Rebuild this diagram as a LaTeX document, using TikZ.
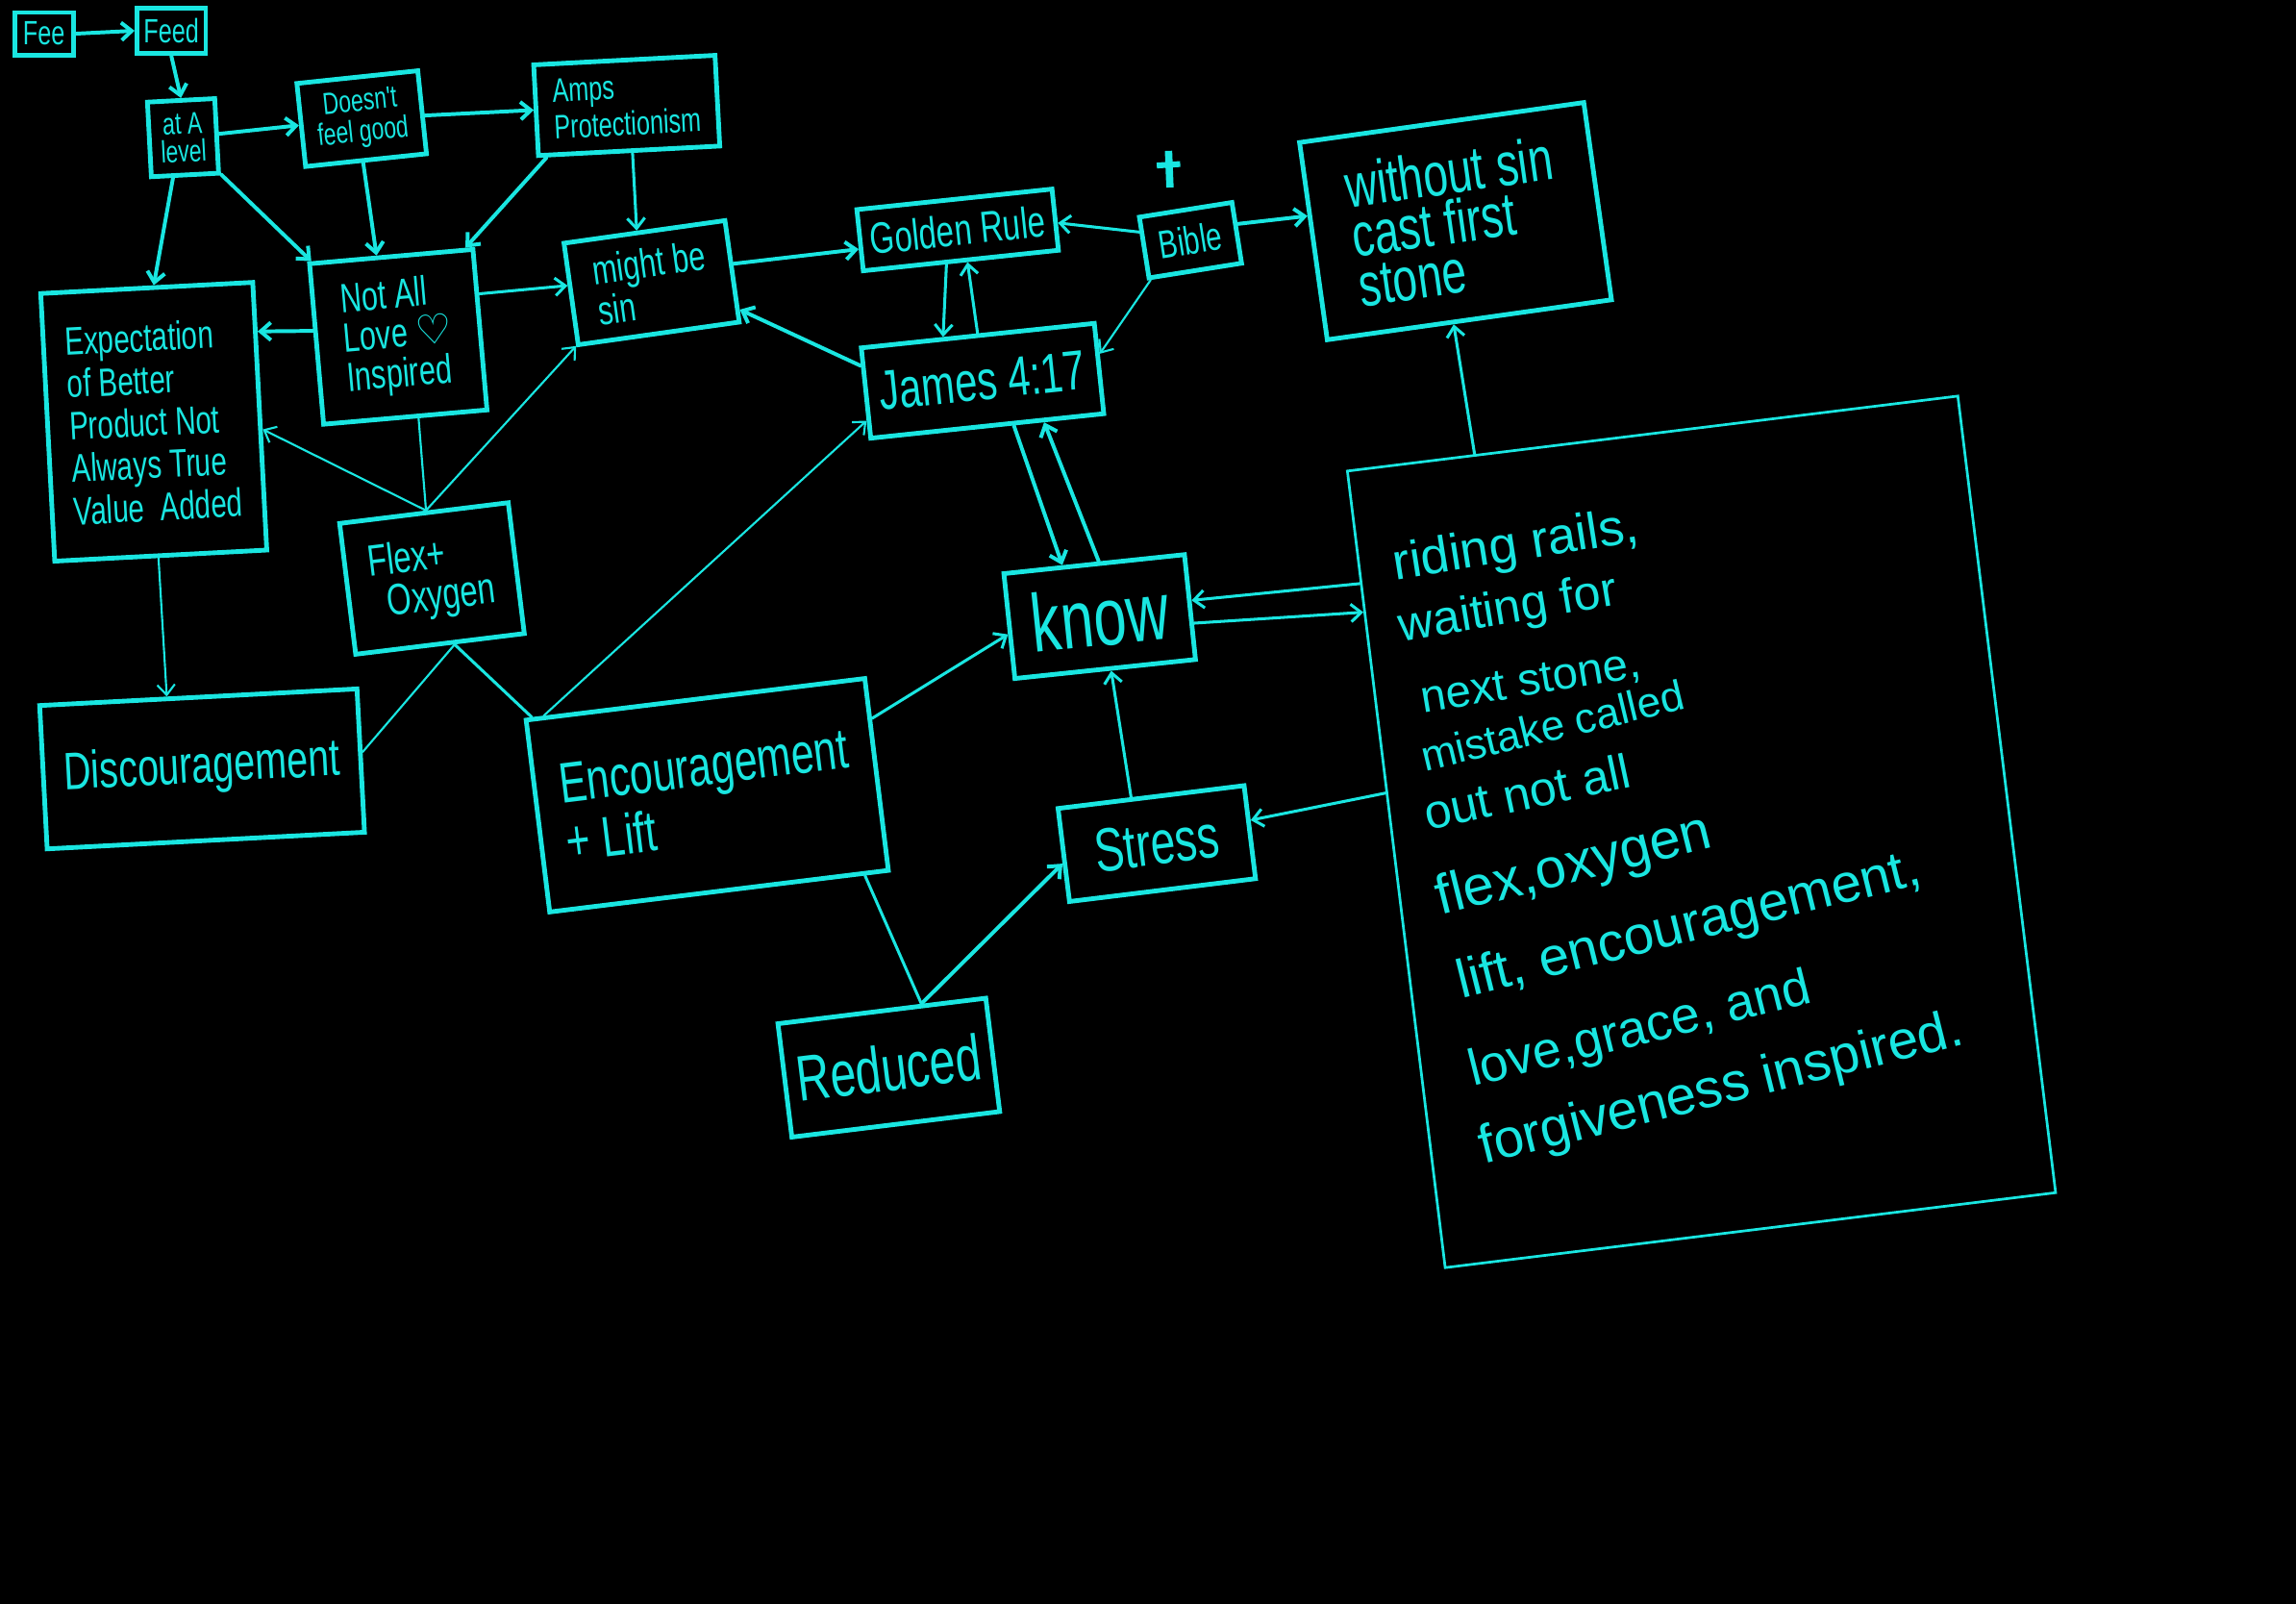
\documentclass[tikz,border=0pt]{standalone}
\usepackage{fontspec}
\setmainfont{Liberation Sans}
\newfontfamily\hand[FakeStretch=0.72]{Liberation Sans}
\newfontfamily\plainhand{Liberation Sans}
\newfontfamily\symf{DejaVu Sans}
\usetikzlibrary{arrows.meta,calc}
\definecolor{cy}{RGB}{25,230,225}
\newcommand\myfs[2]{\fontsize{#1}{#2}\selectfont}
\begin{document}
\begin{tikzpicture}[x=1pt,y=-1pt,
  box/.style={draw=cy,line width=3.2pt,text=cy,inner sep=2pt,align=center},
  thinbox/.style={draw=cy,line width=1.8pt},
  lk/.style={draw=cy,line width=2.6pt,line cap=round},
  lkm/.style={draw=cy,line width=2pt,line cap=round},
  lkt/.style={draw=cy,line width=1.4pt,line cap=round},
  ar/.style={-{Straight Barb[length=7pt,width=12pt]}},
  bt/.style={text=cy,anchor=base west,inner sep=0pt}]
\fill[black] (0,0) rectangle (1568,1095);
\useasboundingbox (0,0) rectangle (1568,1095);

% boxes
\node[box,minimum width=40pt,minimum height=29pt,font={\hand\myfs{23}{24}}] (fee) at (30,23) {Fee};
\node[box,minimum width=47pt,minimum height=31pt,font={\hand\myfs{23}{24}}] (feed) at (117,21) {Feed};
\node[box,rotate=3,minimum width=46pt,minimum height=51pt,font={\hand\myfs{21}{19}}] (atA) at (125,94) {at A\\level};
\node[box,rotate=6,minimum width=83pt,minimum height=57pt,font={\hand\myfs{21}{21}}] (doesnt) at (247,81) {Doesn't\\feel good};
\node[box,rotate=3,align=left,minimum width=124pt,minimum height=62pt,font={\hand\myfs{23}{25}}] (amps) at (428,72) {Amps\\Protectionism};
\node[box,rotate=5,align=left,minimum width=112pt,minimum height=110pt,font={\hand\myfs{28}{27}}] (notall) at (272,230) {Not All\\Love {\symf ♡}\\Inspired};
\node[box,rotate=3,align=left,minimum width=145pt,minimum height=183pt,font={\hand\myfs{27}{29}}] (expect) at (105,288) {Expectation\\of Better\\Product Not\\Always True\\Value \ Added};
\node[box,rotate=8,align=left,minimum width=111pt,minimum height=70pt,font={\hand\myfs{28}{28}}] (might) at (445,193) {might be\\sin};
\node[box,rotate=6,minimum width=134pt,minimum height=42pt,font={\hand\myfs{30}{30}}] (golden) at (654,157) {Golden Rule};
\node[box,rotate=9,minimum width=64pt,minimum height=42pt,font={\hand\myfs{27}{27}}] (bible) at (813,164) {Bible};
\node[box,rotate=8,align=left,minimum width=196pt,minimum height=136pt,font={\hand\myfs{42}{34}}] (without) at (994,151) {without sin\\cast first\\stone};
\node[box,rotate=6,minimum width=160pt,minimum height=62pt,font={\hand\myfs{38}{38}}] (james) at (671,260) {James 4:17};
\node[box,rotate=7,align=left,minimum width=116pt,minimum height=90pt,font={\hand\myfs{30}{28}}] (flex) at (295,395) {Flex+\\\hspace*{10pt}Oxygen};
\node[box,rotate=3,minimum width=217pt,minimum height=98pt,font={\hand\myfs{36}{36}}] (disc) at (138,525) {Discouragement};
\node[box,rotate=7,align=left,minimum width=233pt,minimum height=132pt,font={\hand\myfs{39}{40}}] (enc) at (483,543) {Encouragement\\+ Lift};
\node[box,rotate=6,minimum width=124pt,minimum height=72pt,font={\hand\myfs{56}{56}}] (know) at (751,421) {know};
\node[box,rotate=7,minimum width=128pt,minimum height=64pt,font={\hand\myfs{42}{42}}] (stress) at (790,576) {Stress};
\node[box,rotate=7,minimum width=143pt,minimum height=78pt,font={\hand\myfs{44}{44}}] (reduced) at (607,729) {Reduced};
\node[thinbox,rotate=7,minimum width=420pt,minimum height=548pt] (big) at (1162,568) {};

% cross above the Bible
\draw[cy,line width=5pt] (798,103) -- (799,128);
\draw[cy,line width=4pt] (790,113) -- (806,112);

% text of the large box
\node[bt,rotate=9,font={\plainhand\myfs{35}{35}}] (t1) at (953,396) {riding rails,};
\node[bt,rotate=9.5,font={\plainhand\myfs{33}{33}}] (t2) at (957,438) {waiting for};
\node[bt,rotate=9.5,font={\plainhand\myfs{31}{31}}] (t3) at (972,487) {next stone,};
\node[bt,rotate=13.5,font={\plainhand\myfs{29}{29}}] (t4) at (973,527) {mistake called};
\node[bt,rotate=12,font={\plainhand\myfs{33}{33}}] (t5) at (975,567) {out not all};
\node[bt,rotate=14,font={\plainhand\myfs{38}{38}}] (t6) at (984,625) {flex,oxygen};
\node[bt,rotate=14,font={\plainhand\myfs{37}{37}}] (t7) at (998,682) {lift, encouragement,};
\node[bt,rotate=14,font={\plainhand\myfs{35}{35}}] (t8) at (1006,742) {love,grace, and};
\node[bt,rotate=14,font={\plainhand\myfs{37}{37}}] (t9) at (1013,795) {forgiveness inspired.};

% connectors
\draw[lk,ar] (fee.east) -- (feed.west);
\draw[lk,ar] (feed.south) -- (atA.north);
\draw[lk,ar] (atA) -- (doesnt);
\draw[lk,ar] (doesnt) -- (amps);
\draw[lk,ar] (atA.-107) -- (expect.87);
\draw[lk,ar] (atA.-47) -- (notall.134);
\draw[lk,ar] (doesnt.-94) -- (notall.100);
\draw[lk,ar] (amps.-150) -- (notall.48);
\draw[lk,ar] (notall.171) -- (expect.38);
\draw[lkm,ar] (amps.-86) -- (might.98);
\draw[lkm,ar] (notall.23) -- (might.174);
\draw[lkt,ar] (expect.-91) -- (disc.113);
\draw[lkt] (flex.88) -- (notall.-81);
\draw[lkt,ar] (flex.88) -- (expect.-7);
\draw[lkt,ar] (flex.88) -- (might.-148);
\draw[lkt] (disc.3) -- (flex.-78);
\draw[lkm] (flex.-78) -- (enc.149);
\draw[lkt,ar] (enc.147) -- (james.-167);
\draw[lkm,ar] (enc.18) -- (know.185);
\draw[lk,ar] (might.5) -- (golden.185);
\draw[lkm,ar] (bible.162) -- (golden.-2);
\draw[lk,ar] (bible.10) -- (without.170);
\draw[lkt,ar] (bible.-144) -- (james.7);
\draw[lkm,ar] (golden.-114) -- (james.126);
\draw[lkm,ar] (james.90) -- (golden.-79);
\draw[lk,ar] (james.167) -- (might.-25);
\draw[lk,ar] (james.-61) -- (know.120);
\draw[lk,ar] (know.85) -- (james.-40);
\draw[lkm,ar] (big.137) -- (know.4);
\draw[lkm,ar] (know.-10) -- (big.140);
\draw[lkm,ar] (stress.112) -- (know.-84);
\draw[lkm,ar] (big.166) -- (stress.7);
\draw[lkm] (enc.-34) -- (reduced.56);
\draw[lk,ar] (reduced.56) -- (stress.-175);
\draw[lkm,ar] (big.114) -- (without.-99);
\end{tikzpicture}
\end{document}
